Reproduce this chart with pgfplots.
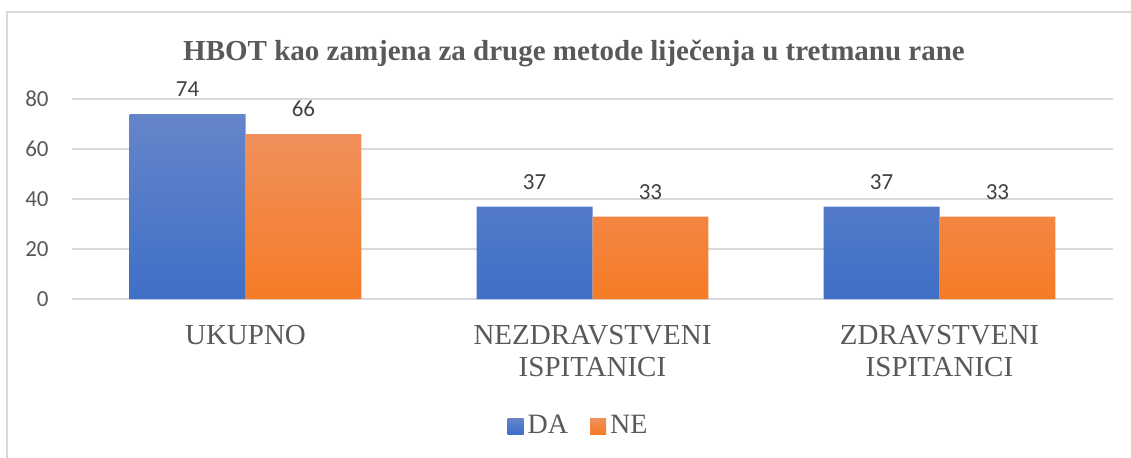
\documentclass[border=0pt]{standalone}
\usepackage{pgfplots}
\pgfplotsset{compat=1.18}
\usepackage{fontspec}
\setmainfont{Liberation Serif}
\newfontfamily\calibri{Carlito}
\definecolor{txt}{HTML}{595959}
\definecolor{lbl}{HTML}{404040}
\definecolor{gridc}{HTML}{D9D9D9}
\definecolor{blueT}{HTML}{6585CA}
\definecolor{blueB}{HTML}{3F6FC6}
\definecolor{orT}{HTML}{F0905C}
\definecolor{orB}{HTML}{F57B26}
\begin{document}
\begin{tikzpicture}[x=1pt,y=1pt]
\useasboundingbox (0,0) rectangle (565.5,228.5);
\draw[gridc, line width=0.75pt] (3.5,-5) -- (3.5,222.5) -- (580,222.5);
\begin{axis}[
  at={(36pt,79pt)}, anchor=south west,
  scale only axis, width=520.5pt, height=100pt,
  ymin=0, ymax=80, ytick={0,20,40,60,80},
  xmin=-0.5, xmax=2.5, xtick={0,1,2},
  xticklabels={UKUPNO,{NEZDRAVSTVENI\\ISPITANICI},{ZDRAVSTVENI\\ISPITANICI}},
  ybar=0pt, bar width=0.334,
  axis line style={draw=none},
  major tick length=0pt,
  ymajorgrids, grid style={gridc, line width=0.75pt},
  /pgf/number format/assume math mode=true,
  yticklabel style={font=\calibri\fontsize{11.5}{13}\selectfont, text=txt, anchor=east, inner sep=0pt, xshift=-11.5pt},
  xticklabel style={font=\fontsize{14.5}{16}\selectfont, text=txt, align=center, anchor=north, inner sep=0pt, yshift=-13pt},
  nodes near coords,
  nodes near coords style={font=\calibri\fontsize{11.5}{13}\selectfont, text=lbl, anchor=base, inner sep=0pt, yshift=8.75pt},
  legend columns=2,
  legend style={at={(0.4875,-0.635)}, anchor=center, draw=none, fill=none,
    font=\fontsize{14}{15}\selectfont, text=txt,
    /tikz/every even column/.append style={column sep=9pt}},
  legend image code/.code={\path[#1, draw=none] (0pt,-4pt) rectangle (8pt,4pt);},
]
\addplot[draw=none, top color=blueT, bottom color=blueB] coordinates {(0,74) (1,37) (2,37)};
\addplot[draw=none, top color=orT, bottom color=orB] coordinates {(0,66) (1,33) (2,33)};
\legend{DA,NE}
\end{axis}
\node[anchor=base, text=txt, font=\fontsize{14.5}{16}\selectfont\bfseries] at (287,198.5) {HBOT kao zamjena za druge metode liječenja u tretmanu rane};
\end{tikzpicture}
\end{document}
